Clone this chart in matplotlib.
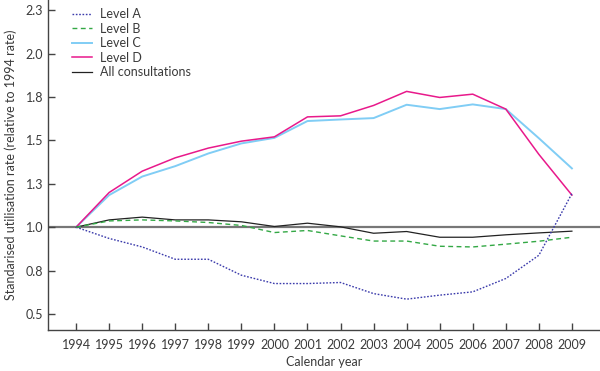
import matplotlib
matplotlib.use("Agg")
import matplotlib.pyplot as plt

years = list(range(1994, 2010))
level_a = [1.0, 0.935, 0.886, 0.815, 0.815, 0.723, 0.675, 0.675, 0.681, 0.617,
           0.585, 0.608, 0.627, 0.704, 0.838, 1.194]
level_b = [1.0, 1.036, 1.042, 1.036, 1.027, 1.010, 0.969, 0.981, 0.950, 0.920,
           0.920, 0.890, 0.886, 0.902, 0.919, 0.942]
level_c = [1.0, 1.185, 1.292, 1.352, 1.425, 1.483, 1.515, 1.612, 1.621, 1.629,
           1.706, 1.681, 1.708, 1.681, 1.513, 1.339]
level_d = [1.0, 1.200, 1.323, 1.400, 1.456, 1.496, 1.521, 1.636, 1.642, 1.702,
           1.783, 1.748, 1.767, 1.681, 1.420, 1.185]
all_cons = [1.0, 1.042, 1.058, 1.042, 1.042, 1.031, 1.004, 1.023, 1.002, 0.965,
            0.975, 0.942, 0.942, 0.956, 0.967, 0.977]

y_ticks = [0.5, 0.75, 1.0, 1.25, 1.5, 1.75, 2.0, 2.25]
y_tick_labels = ["0.5", "0.8", "1.0", "1.3", "1.5", "1.8", "2.0", "2.3"]

plt.rcParams['font.family'] = ['Lato', 'DejaVu Sans']
txt = '#3a3a3a'

fig = plt.figure(figsize=(6, 3.71), dpi=100)
ax = fig.add_axes([0.08, 0.11, 0.92, 0.89])

ax.axhline(1.0, color='#777777', lw=1.6, zorder=1)
ax.plot(years, level_a, color='#3b3bab', lw=1.0, ls=(0, (1.2, 1.2)), label='Level A', zorder=3)
ax.plot(years, level_b, color='#33a845', lw=1.0, ls=(0, (3.5, 2.5)), label='Level B', zorder=3)
ax.plot(years, level_c, color='#80cdf5', lw=1.4, label='Level C', zorder=2)
ax.plot(years, level_d, color='#e8198b', lw=1.1, label='Level D', zorder=2)
ax.plot(years, all_cons, color='#222222', lw=0.9, label='All consultations', zorder=2)

ax.set_xlim(1993.15, 2009.85)
ax.set_ylim(0.406, 2.31)
ax.set_xticks(years)
ax.set_xticklabels([str(y) for y in years])
ax.set_yticks(y_ticks)
ax.set_yticklabels(y_tick_labels)

for s in ['top', 'right']:
    ax.spines[s].set_visible(False)
for s in ['left', 'bottom']:
    ax.spines[s].set_color('#444444')
    ax.spines[s].set_linewidth(1.0)
ax.tick_params(direction='in', length=5, width=1.0, color='#444444',
               labelsize=9, labelcolor=txt)
ax.tick_params(axis='x', pad=6)

ax.set_xlabel('Calendar year', fontsize=9, color=txt, labelpad=4)
ax.set_ylabel('Standarised utilisation rate (relative to 1994 rate)', fontsize=9,
              color=txt, labelpad=6)

leg = ax.legend(loc='upper left', bbox_to_anchor=(0.035, 0.99), frameon=False,
                fontsize=9, handlelength=1.6, handletextpad=0.6,
                labelspacing=0.2, borderaxespad=0)
for t in leg.get_texts():
    t.set_color(txt)

fig.savefig('out.png', dpi=100)
